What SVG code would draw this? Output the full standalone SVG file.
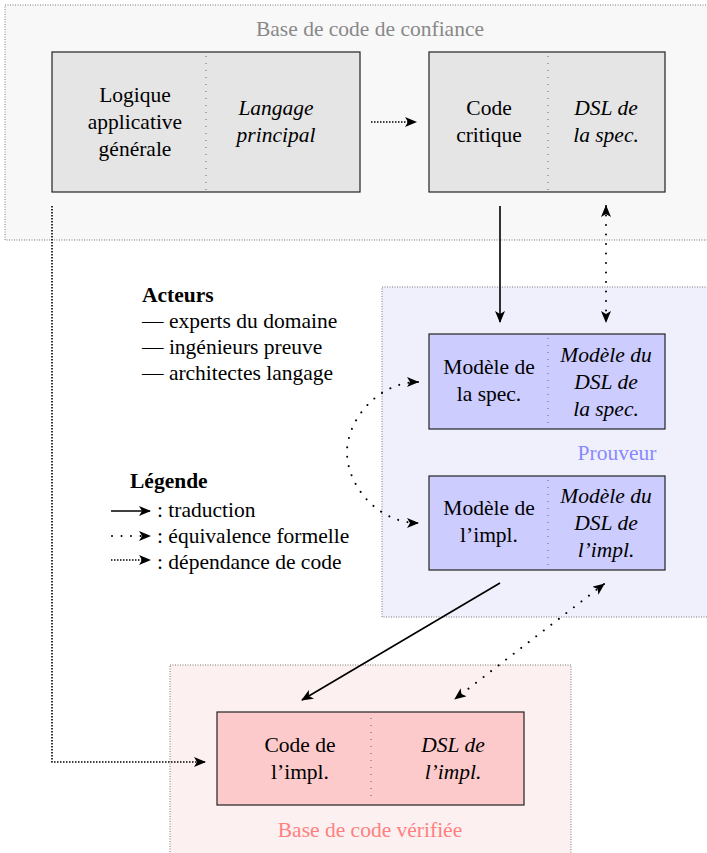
<svg xmlns="http://www.w3.org/2000/svg" width="707" height="853" viewBox="0 0 707 853">
<style>
text{font-family:"Liberation Serif","Times New Roman",serif;font-size:21.5px;fill:#000}
.c{text-anchor:middle}
.i{font-style:italic}
.b{font-weight:bold}
.cont{stroke:#777;stroke-width:1;stroke-dasharray:1 1.5}
.box{stroke:#222;stroke-width:1.2}
.div{stroke:#666;stroke-width:1;stroke-dasharray:1 6}
.tr{stroke:#000;stroke-width:1.6;fill:none}
.eq{stroke:#000;stroke-width:2;fill:none;stroke-dasharray:0.01 9.5;stroke-linecap:round}
.dep{stroke:#000;stroke-width:1.6;fill:none;stroke-dasharray:1.5 1.5}
</style>
<defs>
<marker id="ah" viewBox="0 0 12 10" refX="11" refY="5" markerWidth="12" markerHeight="10" markerUnits="userSpaceOnUse" orient="auto-start-reverse">
<path d="M0,0 L12,5 L0,10 L3,5 Z" fill="#000"/>
</marker>
</defs>

<g id="trusted">
<rect x="5" y="5" width="710" height="235" fill="#f8f8f8" class="cont"/>
<text x="370" y="36" class="c" style="fill:#888">Base de code de confiance</text>
</g>
<g id="prover">
<rect x="382" y="287" width="330" height="330" fill="#f0f0fc" class="cont"/>
<text x="617" y="460" class="c" style="fill:#8888ff">Prouveur</text>
</g>
<g id="verified">
<rect x="170" y="665" width="401" height="195" fill="#fdf0f0" class="cont"/>
<text x="370" y="837" class="c" style="fill:#ff8080">Base de code vérifiée</text>
</g>

<g id="logique">
<rect x="52" y="52" width="308" height="140" fill="#e5e5e5" class="box"/>
<line x1="206" y1="56" x2="206" y2="190" class="div"/>
<text x="135" y="102" class="c">Logique</text>
<text x="135" y="129" class="c">applicative</text>
<text x="135" y="156" class="c">générale</text>
<text x="276" y="115" class="c i">Langage</text>
<text x="276" y="142" class="c i">principal</text>
</g>
<g id="critique">
<rect x="429" y="52" width="236" height="140" fill="#e5e5e5" class="box"/>
<line x1="548" y1="56" x2="548" y2="190" class="div"/>
<text x="489" y="115" class="c">Code</text>
<text x="489" y="142" class="c">critique</text>
<text x="606" y="115" class="c i">DSL de</text>
<text x="606" y="142" class="c i">la spec.</text>
</g>
<g id="modele-spec">
<rect x="429" y="334" width="236" height="95" fill="#ccccff" class="box"/>
<line x1="548" y1="338" x2="548" y2="427" class="div"/>
<text x="489" y="374" class="c">Modèle de</text>
<text x="489" y="401" class="c">la spec.</text>
<text x="606" y="362" class="c i">Modèle du</text>
<text x="606" y="389" class="c i">DSL de</text>
<text x="606" y="416" class="c i">la spec.</text>
</g>
<g id="modele-impl">
<rect x="429" y="476" width="236" height="94" fill="#ccccff" class="box"/>
<line x1="548" y1="480" x2="548" y2="568" class="div"/>
<text x="489" y="515" class="c">Modèle de</text>
<text x="489" y="542" class="c">l’impl.</text>
<text x="606" y="503" class="c i">Modèle du</text>
<text x="606" y="530" class="c i">DSL de</text>
<text x="606" y="557" class="c i">l’impl.</text>
</g>
<g id="code-impl">
<rect x="217" y="712" width="307" height="93" fill="#fccaca" class="box"/>
<line x1="371" y1="718" x2="371" y2="802" class="div"/>
<text x="300" y="752" class="c">Code de</text>
<text x="300" y="779" class="c">l’impl.</text>
<text x="453" y="752" class="c i">DSL de</text>
<text x="453" y="779" class="c i">l’impl.</text>
</g>

<g id="legend">
<text x="142" y="302" class="b">Acteurs</text>
<text x="142" y="328">— experts du domaine</text>
<text x="142" y="354">— ingénieurs preuve</text>
<text x="142" y="380">— architectes langage</text>
<text x="130" y="488" class="b">Légende</text>
<line x1="111" y1="511" x2="150" y2="511" class="tr" marker-end="url(#ah)"/>
<text x="157" y="517">: traduction</text>
<line x1="112" y1="536" x2="150" y2="536" class="eq" marker-end="url(#ah)"/>
<text x="157" y="543">: équivalence formelle</text>
<line x1="111" y1="560" x2="150" y2="560" class="dep" marker-end="url(#ah)"/>
<text x="157" y="569">: dépendance de code</text>
</g>

<g id="connectors">
<line x1="371" y1="122" x2="416" y2="122" class="dep" marker-end="url(#ah)"/>
<line x1="500" y1="206" x2="500" y2="322" class="tr" marker-end="url(#ah)"/>
<line x1="606" y1="206" x2="606" y2="322" class="eq" marker-start="url(#ah)" marker-end="url(#ah)"/>
<path d="M418,382 C378,382 347,420 347,452 C347,486 378,523 418,523" class="eq" marker-start="url(#ah)" marker-end="url(#ah)"/>
<line x1="500" y1="583" x2="302" y2="700" class="tr" marker-end="url(#ah)"/>
<line x1="604" y1="584" x2="455" y2="699" class="eq" marker-start="url(#ah)" marker-end="url(#ah)"/>
<path d="M52,206 L52,762 L205,762" class="dep" marker-end="url(#ah)"/>
</g>
</svg>
